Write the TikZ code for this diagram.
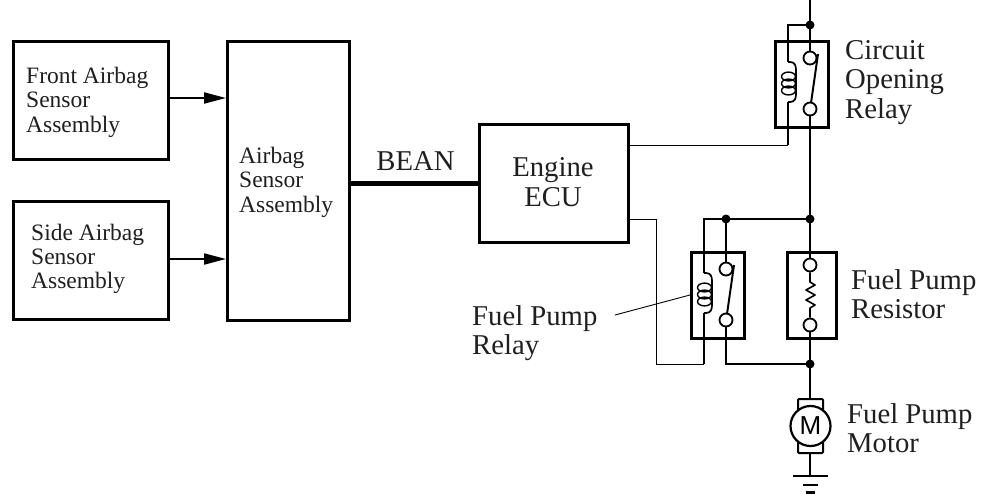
\documentclass[tikz,border=0pt]{standalone}
\usepackage{fontspec}
\setmainfont{Liberation Serif}
\newfontfamily\msans{Liberation Sans}
\usetikzlibrary{arrows.meta,positioning}
\tikzset{
  boxthick/.style={draw=black,line width=3pt,inner sep=0pt,fill=none},
  wire/.style={draw=black,line width=1pt},
  mainwire/.style={draw=black,line width=2pt},
  contact/.style={circle,draw=black,line width=1.8pt,fill=white,minimum size=13pt,inner sep=0pt},
  jdot/.style={circle,fill=black,minimum size=9pt,inner sep=0pt},
  lbl/.style={align=left,anchor=north west,inner sep=0pt,font=\fontsize{23.5}{24.3}\selectfont,text=black!88},
  biglbl/.style={align=left,anchor=north west,inner sep=0pt,font=\fontsize{28.7}{29.5}\selectfont,text=black!88},
  pics/relay/.style={code={
    \node[boxthick,minimum width=53pt,minimum height=86pt,anchor=north west] (-box) at (-36,0) {};
    \node[contact] (-top) at (0,18) {};
    \node[contact] (-bot) at (0,69) {};
    \coordinate (-ct) at (-22,22);
    \coordinate (-cb) at (-22,62);
    \draw[line width=2pt] (8,14) -- (1,63);
    \draw[line width=1.7pt] (-22,22) -- (-20,22) .. controls (-15,22) and (-14,26) .. (-14,30) -- (-14,54) .. controls (-14,58) and (-15,62) .. (-20,62) -- (-22,62);
    \foreach \yy in {36.5,43.5,50.5}
      \draw[line width=1.4pt] (-21.5,\yy) ellipse [x radius=7,y radius=4.4];
  }}
}
\begin{document}
\begin{tikzpicture}[x=1pt,y=-1pt]
\useasboundingbox (0,0) rectangle (984,493);
% blocks
\node[boxthick,minimum width=155pt,minimum height=118pt,anchor=north west] (front) at (12,40) {};
\node[boxthick,minimum width=155pt,minimum height=118pt,anchor=north west] (side) at (12,200) {};
\node[boxthick,minimum width=122pt,minimum height=279pt,anchor=north west] (asm) at (226,40) {};
\node[boxthick,minimum width=149pt,minimum height=118pt,anchor=north west] (ecu) at (478,123) {};
\node[lbl] (tf) at (26,67) {Front Airbag\\Sensor\\Assembly};
\node[lbl] (ts) at (31,223.5) {Side Airbag\\Sensor\\Assembly};
\node[lbl] (ta) at (239,147) {Airbag\\Sensor\\Assembly};
\node[align=center,inner sep=0pt,font=\fontsize{28.7}{30}\selectfont,text=black!88] (te) at (553,182.5) {Engine\\ECU};
\node[anchor=base,inner sep=0pt,font=\fontsize{28.7}{29}\selectfont,text=black!88] (tb) at (415.5,170) {BEAN};
% connectors on the left
\coordinate (fa) at (front.east|-0,98);
\coordinate (sa) at (side.east|-0,259);
\draw[mainwire,-{Triangle[length=22pt,width=11pt]}] (fa) -- (asm.west|-fa);
\draw[mainwire,-{Triangle[length=22pt,width=11pt]}] (sa) -- (asm.west|-sa);
\draw[line width=5pt] (asm.east|-ecu.west) -- (ecu.west);
% right column
\coordinate (topend) at (810,0);
\coordinate (j1) at (810,25);
\coordinate (j2) at (810,219);
\coordinate (j3) at (726,219);
\coordinate (j4) at (810,364);
\coordinate (rbl) at (704,364);
\coordinate (rbr) at (656,364);
\pic (r1) at (810,40) {relay};
\pic (r2) at (726,251) {relay};
\node[boxthick,minimum width=49pt,minimum height=86pt,anchor=north west] (res) at (786,251) {};
\node[contact] (rt) at (810,265) {};
\node[contact] (rb) at (810,325) {};
\draw[mainwire] (topend) -- (r1-top);
\draw[mainwire] (r1-bot) -- (j2) -- (rt);
\draw[mainwire] (rb) -- (j4);
\draw[wire,line width=1.4pt] (j1) -- (r1-ct|-j1) -- (r1-ct);
\draw[wire,line width=1.4pt] (r1-cb) -- (788,145);
\draw[wire] (788,145) -- (ecu.east|-0,145);
\draw[wire,line width=2pt] (j2) -- (r2-ct|-j2) -- (r2-ct);
\draw[wire,line width=1.4pt] (j3) -- (r2-top);
\draw[wire] (ecu.east|-j3) -- (656,219) -- (rbr) -- (rbl);
\draw[wire,line width=2pt] (rbl) -- (r2-cb);
\draw[wire,line width=1.4pt] (r2-bot) -- (726,364) -- (j4);
% resistor zigzag
\draw[line width=1.6pt,line join=round] (rt) -- (810,282) -- (815,285) -- (806,290) -- (815,295) -- (806,300) -- (815,305) -- (810,308) -- (rb);
% motor
\coordinate (gnd) at (810,476);
\draw[line width=2pt,rounded corners=1pt] (798,399) rectangle (823,453);
\draw[mainwire] (j4) -- (810,399);
\draw[mainwire] (810,453) -- (gnd);
\node[circle,draw=black,line width=2.2pt,fill=white,minimum size=40pt,inner sep=0pt,font=\msans\fontsize{26}{26}\selectfont] (mot) at (810.5,426) {M};
\draw[line width=2.6pt] (793,476) -- (828,476);
\draw[line width=2.2pt] (803,485) -- (818,485);
\draw[line width=2.2pt] (806,492.5) -- (815,492.5);
% junctions
\node[jdot] (d1) at (j1) {};
\node[jdot] (d2) at (j2) {};
\node[jdot] (d3) at (j3) {};
\node[jdot] (d4) at (j4) {};
% labels
\node[biglbl] (tc) at (845,40) {Circuit\\Opening\\Relay};
\node[biglbl] (tr) at (851,269) {Fuel Pump\\Resistor};
\node[biglbl] (tp) at (472,305) {Fuel Pump\\Relay};
\node[biglbl] (tm) at (847,403) {Fuel Pump\\Motor};
\coordinate (lead) at (615,315);
\draw[line width=0.9pt] (lead) -- (690,295);
\end{tikzpicture}
\end{document}
